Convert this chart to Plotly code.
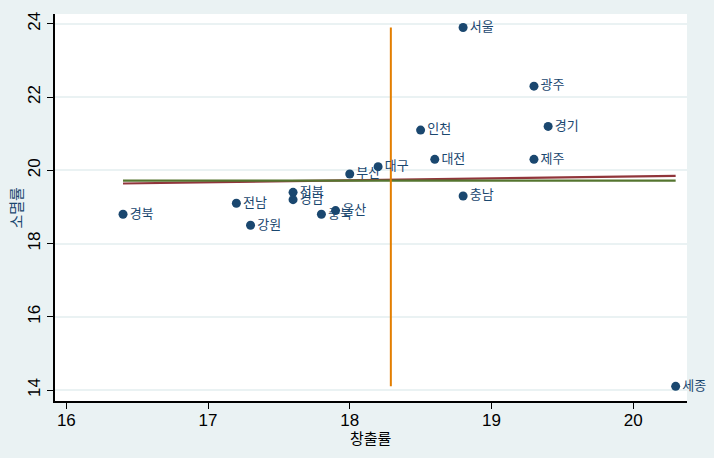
import plotly.graph_objects as go

regions = ["서울", "광주", "경기", "인천", "대전", "제주", "대구", "부산", "충남",
           "전북", "경남", "전남", "경북", "강원", "충북", "울산", "세종"]
creation = [18.8, 19.3, 19.4, 18.5, 18.6, 19.3, 18.2, 18.0, 18.8,
            17.6, 17.6, 17.2, 16.4, 17.3, 17.8, 17.9, 20.3]
extinction = [23.9, 22.3, 21.2, 21.1, 20.3, 20.3, 20.1, 19.9, 19.3,
              19.4, 19.2, 19.1, 18.8, 18.5, 18.8, 18.9, 14.1]

mean_x_line_x = [18.29, 18.29]
mean_x_line_y = [14.1, 23.9]
mean_y_line_x = [16.4, 20.3]
mean_y_line_y = [19.72, 19.72]
fit_line_x = [16.4, 20.3]
fit_line_y = [19.64, 19.85]

x_ticks = [16, 17, 18, 19, 20]
y_ticks = [14, 16, 18, 20, 22, 24]

navy = "#1a476f"
bg = "#eaf2f3"

fig = go.Figure()
fig.add_trace(go.Scatter(x=fit_line_x, y=fit_line_y, mode="lines",
                         line=dict(color="#90353b", width=2.2), hoverinfo="skip"))
fig.add_trace(go.Scatter(x=mean_y_line_x, y=mean_y_line_y, mode="lines",
                         line=dict(color="#55752f", width=2.2), hoverinfo="skip"))
fig.add_trace(go.Scatter(x=mean_x_line_x, y=mean_x_line_y, mode="lines",
                         line=dict(color="#e37e00", width=2), hoverinfo="skip"))
fig.add_trace(go.Scatter(
    x=creation, y=extinction, mode="markers+text", text=regions,
    textposition="middle right", cliponaxis=False,
    textfont=dict(family="Noto Sans CJK KR", size=13, color=navy),
    marker=dict(color=navy, size=9),
))

fig.update_layout(
    width=714, height=458,
    margin=dict(l=55, r=27, t=14, b=57),
    paper_bgcolor=bg, plot_bgcolor="white",
    showlegend=False,
    font=dict(family="Liberation Sans, Arial", color="black"),
    xaxis=dict(
        range=[15.92, 20.38], tickvals=x_ticks, ticktext=[str(v) for v in x_ticks],
        showgrid=False, zeroline=False, automargin=False,
        showline=True, linecolor="black", linewidth=1.5,
        ticks="outside", ticklen=6, tickcolor="black",
        ticklabelstandoff=-3,
        tickfont=dict(size=17, color="black"),
    ),
    yaxis=dict(
        range=[13.7, 24.27], tickvals=y_ticks, ticktext=[str(v) for v in y_ticks],
        showgrid=True, gridcolor=bg, gridwidth=2, zeroline=False, automargin=False,
        showline=True, linecolor="black", linewidth=1.5,
        ticks="outside", ticklen=6, tickcolor="black",
        tickangle=-90,
        tickfont=dict(size=17, color="black"),
    ),
    annotations=[
        dict(text="창출률", xref="paper", yref="paper", x=0.5, y=-(437 - 401) / 387,
             xanchor="center", yanchor="middle", showarrow=False,
             font=dict(family="Noto Sans CJK KR", size=15, color="black")),
        dict(text="소멸률", xref="paper", yref="paper", x=(15 - 55) / 632, y=0.5,
             xanchor="center", yanchor="middle", showarrow=False, textangle=-90,
             font=dict(family="Noto Sans CJK KR", size=15, color=navy)),
    ],
)

fig.write_html("out.html", config={"displayModeBar": False},
               post_script="document.body.style.margin='0';document.body.style.background='#eaf2f3';")
